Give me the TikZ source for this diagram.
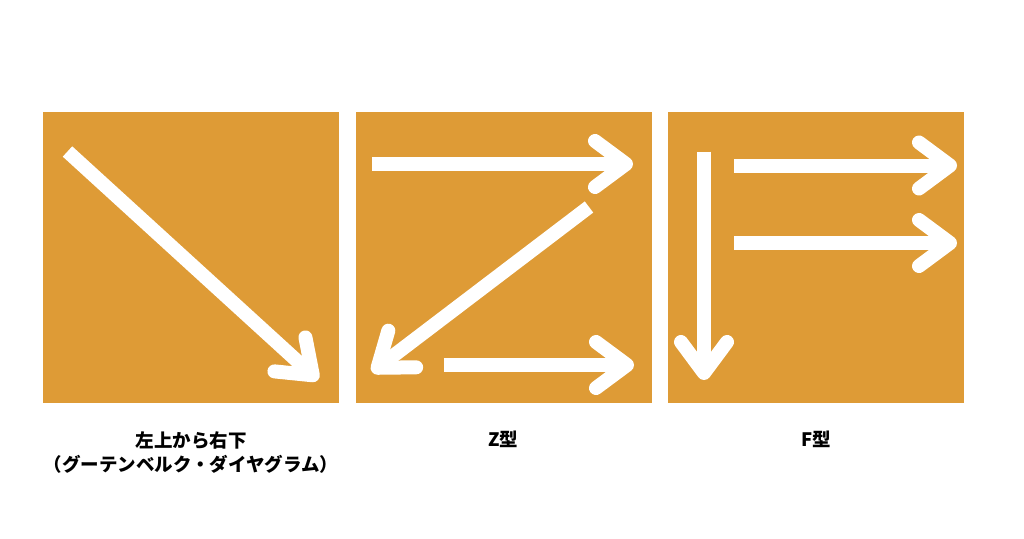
\documentclass[tikz,border=0pt]{standalone}
\usepackage{fontspec}
\newfontfamily\jpfont{Noto Sans CJK JP}
\usepackage{tikz}
\usetikzlibrary{arrows.meta}

\definecolor{panelorange}{HTML}{DE9B36}

\tikzset{
  panel/.style={fill=panelorange, minimum width=296pt, minimum height=291pt,
    inner sep=0pt, outer sep=0pt},
  flow/.style={white, line width=14pt,
    -{Straight Barb[round, length=31pt, width=46pt]}},
  caption/.style={font=\jpfont\bfseries\fontsize{18.5}{24}\selectfont,
    align=center, inner sep=0pt, anchor=north},
}

\begin{document}
\begin{tikzpicture}[x=1pt, y=-1pt]
              \useasboundingbox (0,0) rectangle (1024,538);

              \node[panel] (diag)  at (191,257.5) {};
              \node[panel] (zpat)  at (503.5,257.5) {};
              \node[panel] (fpat)  at (816,257.5) {};

              % arrow ends
              \coordinate (diag-s) at (67.5,151.5);
              \coordinate (diag-e) at (318,380);
              \coordinate (z1-s) at (372,164);
              \coordinate (z1-e) at (633,164);
              \coordinate (z2-s) at (589,207);
              \coordinate (z2-e) at (372,372);
              \coordinate (z3-s) at (444,365);
              \coordinate (z3-e) at (634,365);
              \coordinate (f1-s) at (704,151.5);
              \coordinate (f1-e) at (704,380);
              \coordinate (f2-s) at (734,165.5);
              \coordinate (f2-e) at (957,165.5);
              \coordinate (f3-s) at (734,243);
              \coordinate (f3-e) at (957,243);

              \path (diag-s) edge[flow] (diag-e)
              (z1-s)         edge[flow] (z1-e)
              (z2-s)         edge[flow] (z2-e)
              (z3-s)         edge[flow] (z3-e)
              (f1-s)         edge[flow] (f1-e)
              (f2-s)         edge[flow] (f2-e)
              (f3-s)         edge[flow] (f3-e);

              \node[caption] (diag-cap) at (diag.south |- 0,431) {左上から右下\\（グーテンベルク・ダイヤグラム）};
              \node[caption] (zpat-cap) at (zpat.south |- 0,431) {Z型};
              \node[caption] (fpat-cap) at (fpat.south |- 0,431) {F型};
            \end{tikzpicture}
\end{document}
